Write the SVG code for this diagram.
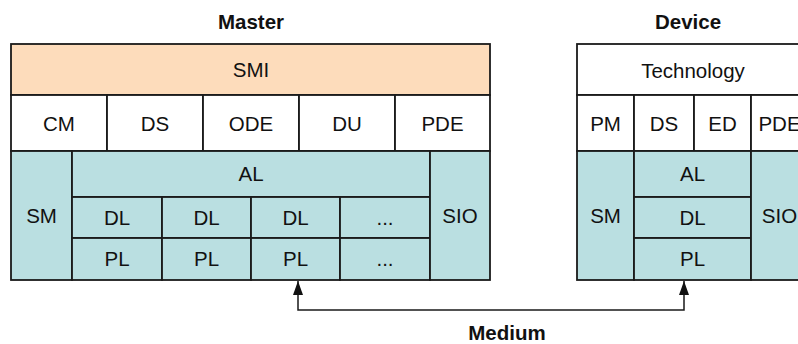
<svg xmlns="http://www.w3.org/2000/svg" width="798" height="344" viewBox="0 0 798 344">
<style>
.b{stroke:#1a1a1a;stroke-width:1.8}
.w{fill:#ffffff}
.o{fill:#fddcbb}
.c{fill:#badfe1}
.t{font-family:"Liberation Sans",Arial,sans-serif;font-size:20.5px;text-anchor:middle;fill:#111111}
.h{font-family:"Liberation Sans",Arial,sans-serif;font-size:20.5px;font-weight:bold;text-anchor:middle;fill:#111111}
.ln{fill:none;stroke:#1a1a1a;stroke-width:1.5}
</style>
<defs>
<marker id="arr" viewBox="0 0 14 10" refX="14" refY="5" markerWidth="14" markerHeight="10" markerUnits="userSpaceOnUse" orient="auto-start-reverse">
<path d="M0,0 L14,5 L0,10 z" fill="#111111"/>
</marker>
</defs>
<rect x="0" y="0" width="798" height="344" fill="#ffffff"/>

<g id="master-title"><text class="h" x="251" y="29">Master</text></g>
<g id="m-smi"><rect class="b o" x="11" y="44" width="479" height="51"/><text class="t" x="251" y="77">SMI</text></g>
<g id="m-cm"><rect class="b w" x="11" y="95" width="96" height="56"/><text class="t" x="59" y="130.5">CM</text></g>
<g id="m-ds"><rect class="b w" x="107" y="95" width="96" height="56"/><text class="t" x="155" y="130.5">DS</text></g>
<g id="m-ode"><rect class="b w" x="203" y="95" width="96" height="56"/><text class="t" x="251" y="130.5">ODE</text></g>
<g id="m-du"><rect class="b w" x="299" y="95" width="96" height="56"/><text class="t" x="347" y="130.5">DU</text></g>
<g id="m-pde"><rect class="b w" x="395" y="95" width="95" height="56"/><text class="t" x="442.5" y="130.5">PDE</text></g>
<g id="m-sm"><rect class="b c" x="11" y="151" width="61" height="129"/><text class="t" x="41.5" y="222.5">SM</text></g>
<g id="m-al"><rect class="b c" x="72" y="151" width="358" height="46"/><text class="t" x="251" y="181">AL</text></g>
<g id="m-dl1"><rect class="b c" x="72" y="197" width="90" height="41"/><text class="t" x="117" y="224.5">DL</text></g>
<g id="m-dl2"><rect class="b c" x="162" y="197" width="89" height="41"/><text class="t" x="206.5" y="224.5">DL</text></g>
<g id="m-dl3"><rect class="b c" x="251" y="197" width="89" height="41"/><text class="t" x="295.5" y="224.5">DL</text></g>
<g id="m-dl4"><rect class="b c" x="340" y="197" width="90" height="41"/><text class="t" x="385" y="224.5">...</text></g>
<g id="m-pl1"><rect class="b c" x="72" y="238" width="90" height="42"/><text class="t" x="117" y="266">PL</text></g>
<g id="m-pl2"><rect class="b c" x="162" y="238" width="89" height="42"/><text class="t" x="206.5" y="266">PL</text></g>
<g id="m-pl3"><rect class="b c" x="251" y="238" width="89" height="42"/><text class="t" x="295.5" y="266">PL</text></g>
<g id="m-pl4"><rect class="b c" x="340" y="238" width="90" height="42"/><text class="t" x="385" y="266">...</text></g>
<g id="m-sio"><rect class="b c" x="430" y="151" width="60" height="129"/><text class="t" x="460" y="222.5">SIO</text></g>

<g id="device-title"><text class="h" x="688" y="29">Device</text></g>
<g id="d-tech"><rect class="b w" x="577" y="44" width="231" height="51"/><text class="t" x="693" y="77.5">Technology</text></g>
<g id="d-pm"><rect class="b w" x="577" y="95" width="57" height="56"/><text class="t" x="605.5" y="130.5">PM</text></g>
<g id="d-ds"><rect class="b w" x="634" y="95" width="60" height="56"/><text class="t" x="664" y="130.5">DS</text></g>
<g id="d-ed"><rect class="b w" x="694" y="95" width="57" height="56"/><text class="t" x="722.5" y="130.5">ED</text></g>
<g id="d-pde"><rect class="b w" x="751" y="95" width="57" height="56"/><text class="t" x="779.5" y="130.5">PDE</text></g>
<g id="d-sm"><rect class="b c" x="577" y="151" width="57" height="129"/><text class="t" x="605.5" y="222.5">SM</text></g>
<g id="d-al"><rect class="b c" x="634" y="151" width="117" height="46"/><text class="t" x="692.5" y="181">AL</text></g>
<g id="d-dl"><rect class="b c" x="634" y="197" width="117" height="41"/><text class="t" x="692.5" y="224.5">DL</text></g>
<g id="d-pl"><rect class="b c" x="634" y="238" width="117" height="42"/><text class="t" x="692.5" y="266">PL</text></g>
<g id="d-sio"><rect class="b c" x="751" y="151" width="57" height="129"/><text class="t" x="779.5" y="222.5">SIO</text></g>

<g id="connectors">
<path class="ln" d="M298,281 V310 H684 V281" marker-start="url(#arr)" marker-end="url(#arr)"/>
</g>
<g id="medium-label"><text class="h" x="507" y="340">Medium</text></g>
</svg>
